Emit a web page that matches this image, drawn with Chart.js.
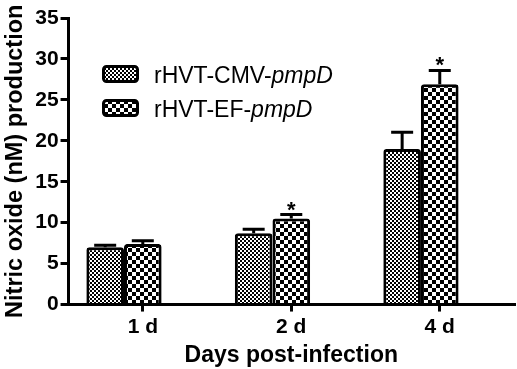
<!DOCTYPE html>
<html>
<head>
<meta charset="utf-8">
<script src="https://cdn.jsdelivr.net/npm/chart.js@4/dist/chart.umd.min.js"></script>
<style>
html,body{margin:0;padding:0;background:#fff;}
#wrap{width:517px;height:369px;}
</style>
</head>
<body>
<div id="wrap"><canvas id="c" width="517" height="369"></canvas></div>
<script>
// ---- data ----
const categories = ['1 d', '2 d', '4 d'];
const seriesNames = ['rHVT-CMV-pmpD', 'rHVT-EF-pmpD'];
const cmvMeans = [7.0, 8.7, 19.0];
const cmvErrors = [0.25, 0.5, 2.05];
const efMeans = [7.4, 10.5, 26.9];
const efErrors = [0.4, 0.5, 1.7];
const efSignificant = [false, true, true];
const yTicks = [0, 5, 10, 15, 20, 25, 30, 35];

const canvas = document.getElementById('c');
const ctx0 = canvas.getContext('2d');
function checker(cell) {
  const c = document.createElement('canvas');
  c.width = c.height = cell * 2;
  const g = c.getContext('2d');
  g.fillStyle = '#fff'; g.fillRect(0, 0, cell * 2, cell * 2);
  g.fillStyle = '#000'; g.fillRect(0, 0, cell, cell); g.fillRect(cell, cell, cell, cell);
  return ctx0.createPattern(c, 'repeat');
}
const fineP = checker(2);
const coarseP = checker(4);

const FONT = '"Liberation Sans", Arial, sans-serif';

const extras = {
  id: 'extras',
  afterDatasetsDraw(chart) {
    const ctx = chart.ctx;
    const y = chart.scales.y;
    const errSets = [cmvErrors, efErrors];
    const meanSets = [cmvMeans, efMeans];
    ctx.save();
    ctx.strokeStyle = '#000';
    ctx.lineWidth = 3;
    ctx.lineCap = 'butt';
    for (let d = 0; d < 2; d++) {
      const meta = chart.getDatasetMeta(d);
      meta.data.forEach((bar, i) => {
        const top = y.getPixelForValue(meanSets[d][i] + errSets[d][i]);
        const base = y.getPixelForValue(meanSets[d][i]);
        ctx.beginPath();
        ctx.moveTo(bar.x, base);
        ctx.lineTo(bar.x, top);
        ctx.moveTo(bar.x - 11, top);
        ctx.lineTo(bar.x + 11, top);
        ctx.stroke();
        if (d === 1 && efSignificant[i]) {
          ctx.fillStyle = '#000';
          ctx.font = 'bold 22px ' + FONT;
          ctx.textAlign = 'center';
          ctx.textBaseline = 'middle';
          ctx.fillText('*', bar.x, top - 4);
        }
      });
    }
    // legend
    const pats = [fineP, coarseP];
    const rows = [76, 110];
    for (let k = 0; k < 2; k++) {
      const cy = rows[k];
      ctx.beginPath();
      ctx.roundRect(103.5, cy - 9.5, 34, 15, 3);
      ctx.fillStyle = pats[k];
      ctx.fill();
      ctx.lineWidth = 3;
      ctx.strokeStyle = '#000';
      ctx.stroke();
      const name = seriesNames[k];
      const cut = name.lastIndexOf('-') + 1;
      const plain = name.slice(0, cut), ital = name.slice(cut);
      ctx.fillStyle = '#000';
      ctx.textAlign = 'left';
      ctx.textBaseline = 'middle';
      ctx.font = '23px ' + FONT;
      ctx.fillText(plain, 154, cy + 1);
      const w = ctx.measureText(plain).width;
      ctx.font = 'italic 23px ' + FONT;
      ctx.fillText(ital, 154 + w, cy + 1);
    }
    ctx.restore();
  }
};

new Chart(canvas, {
  type: 'bar',
  data: {
    labels: categories,
    datasets: [
      { label: seriesNames[0], data: cmvMeans, backgroundColor: fineP, borderColor: '#000', borderWidth: 3, borderRadius: 3 },
      { label: seriesNames[1], data: efMeans, backgroundColor: coarseP, borderColor: '#000', borderWidth: 3, borderRadius: 3 },
      { label: 'spacer', data: categories.map(() => null), backgroundColor: 'rgba(0,0,0,0)' }
    ]
  },
  options: {
    responsive: false,
    devicePixelRatio: 1,
    animation: false,
    layout: { padding: { top: 18, right: 3, bottom: 0, left: 1 } },
    plugins: { legend: { display: false }, tooltip: { enabled: false } },
    datasets: { bar: { categoryPercentage: 0.76, barPercentage: 1 } },
    scales: {
      x: {
        grid: { offset: false, drawOnChartArea: false, drawTicks: true, tickLength: 7, lineWidth: 3, color: '#000' },
        border: { display: true, width: 3, color: '#000' },
        ticks: { color: '#000', font: { family: FONT, size: 21, weight: 'bold', lineHeight: 1.0 }, padding: 5 },
        title: { display: true, text: 'Days post-infection', color: '#000', font: { family: FONT, size: 23, weight: 'bold', lineHeight: 1.15 }, padding: 0 }
      },
      y: {
        min: 0, max: 35,
        afterBuildTicks(s) { s.ticks = yTicks.map(v => ({ value: v })); },
        grid: { drawOnChartArea: false, drawTicks: true, tickLength: 8, lineWidth: 3, color: '#000' },
        border: { display: true, width: 3, color: '#000' },
        ticks: { color: '#000', font: { family: FONT, size: 21, weight: 'bold' }, padding: 2 },
        title: { display: true, text: 'Nitric oxide (nM) production', color: '#000', font: { family: FONT, size: 23.5, weight: 'bold' }, padding: { top: 0, bottom: 4 } }
      }
    }
  },
  plugins: [extras]
});
</script>
</body>
</html>
